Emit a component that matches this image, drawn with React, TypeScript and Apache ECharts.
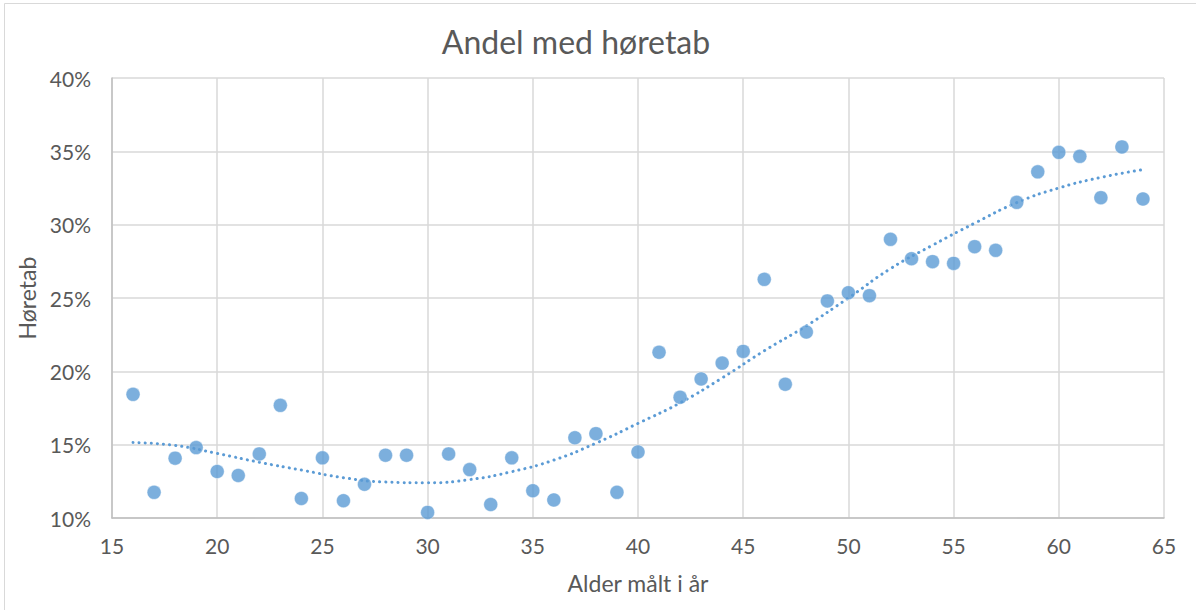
import React, { useEffect, useRef } from "react";
import * as echarts from "echarts";

const ages = [16,17,18,19,20,21,22,23,24,25,26,27,28,29,30,31,32,33,34,35,36,37,38,39,40,41,42,43,44,45,46,47,48,49,50,51,52,53,54,55,56,57,58,59,60,61,62,63,64];
const shares = [18.43,11.75,14.08,14.8,13.17,12.9,14.37,17.68,11.33,14.1,11.18,12.3,14.28,14.28,10.38,14.37,13.3,10.92,14.1,11.86,11.23,15.47,15.75,11.75,14.5,21.3,18.23,19.48,20.56,21.36,26.27,19.12,22.68,24.8,25.36,25.16,29.0,27.68,27.48,27.36,28.5,28.25,31.52,33.6,34.93,34.66,31.84,35.3,31.75];
const trendAges = [16,18,20,22,24,26,28,30,32,34,36,38,40,42,44,46,48,50,52,54,56,58,60,62,64];
const trendValues = [15.14,14.95,14.4,13.8,13.27,12.75,12.45,12.4,12.62,13.16,13.95,15.1,16.45,17.85,19.55,21.4,23.1,25.0,27.0,28.6,30.1,31.5,32.5,33.22,33.75];
const xTicks = [15,20,25,30,35,40,45,50,55,60,65];
const yTicks = [10,15,20,25,30,35,40];

const FONT = "Lato";
const GREY = "#595959";
const BLUE = "#5B9BD5";

export default function App() {
  const ref = useRef<HTMLDivElement>(null);
  useEffect(() => {
    document.body.style.margin = "0";
    const chart = echarts.init(ref.current!, undefined, { renderer: "svg" });
    chart.setOption({
      animation: false,
      backgroundColor: "#ffffff",
      textStyle: { fontFamily: FONT },
      title: {
        text: "Andel med høretab",
        left: 571,
        top: 20,
        textAlign: "center",
        textStyle: { fontFamily: FONT, fontSize: 32, fontWeight: "normal", color: GREY },
      },
      graphic: [
        {
          type: "polyline",
          shape: { points: [[4.5, 620], [4.5, 3.5], [1210, 3.5]] },
          style: { stroke: "#D9D9D9", lineWidth: 1, fill: "none" },
          silent: true,
        },
      ],
      grid: { left: 112, right: 32, top: 78, bottom: 92 },
      xAxis: {
        type: "value",
        min: xTicks[0],
        max: xTicks[xTicks.length - 1],
        interval: 5,
        name: "Alder målt i år",
        nameLocation: "middle",
        nameGap: 53,
        nameTextStyle: { fontFamily: FONT, fontSize: 23, color: GREY },
        axisLine: { show: true, lineStyle: { color: "#BFBFBF", width: 1.5 } },
        axisTick: { show: false },
        axisLabel: { fontFamily: FONT, fontSize: 21, color: GREY, margin: 17 },
        splitLine: { show: true, lineStyle: { color: "#D9D9D9", width: 1.5 } },
      },
      yAxis: {
        type: "value",
        min: yTicks[0],
        max: yTicks[yTicks.length - 1],
        interval: 5,
        name: "Høretab",
        nameLocation: "middle",
        nameGap: 68,
        nameRotate: 90,
        nameTextStyle: { fontFamily: FONT, fontSize: 23, color: GREY },
        axisLine: { show: true, lineStyle: { color: "#BFBFBF", width: 1.5 } },
        axisTick: { show: false },
        axisLabel: { fontFamily: FONT, fontSize: 21, color: GREY, margin: 21, formatter: (v: number) => v + "%" },
        splitLine: { show: true, lineStyle: { color: "#D9D9D9", width: 1.5 } },
      },
      series: [
        {
          type: "line",
          data: trendAges.map((a, i) => [a, trendValues[i]]),
          smooth: true,
          showSymbol: false,
          lineStyle: { color: BLUE, width: 3, type: [0.1, 6], cap: "round" },
          z: 1,
          silent: true,
        },
        {
          type: "scatter",
          data: ages.map((a, i) => [a, shares[i]]),
          symbol: "circle",
          symbolSize: 14,
          itemStyle: { color: BLUE, borderColor: "#ffffff", borderWidth: 0.5 },
          z: 2,
        },
      ],
    });
    return () => chart.dispose();
  }, []);
  return <div ref={ref} style={{ width: 1196, height: 610 }} />;
}
